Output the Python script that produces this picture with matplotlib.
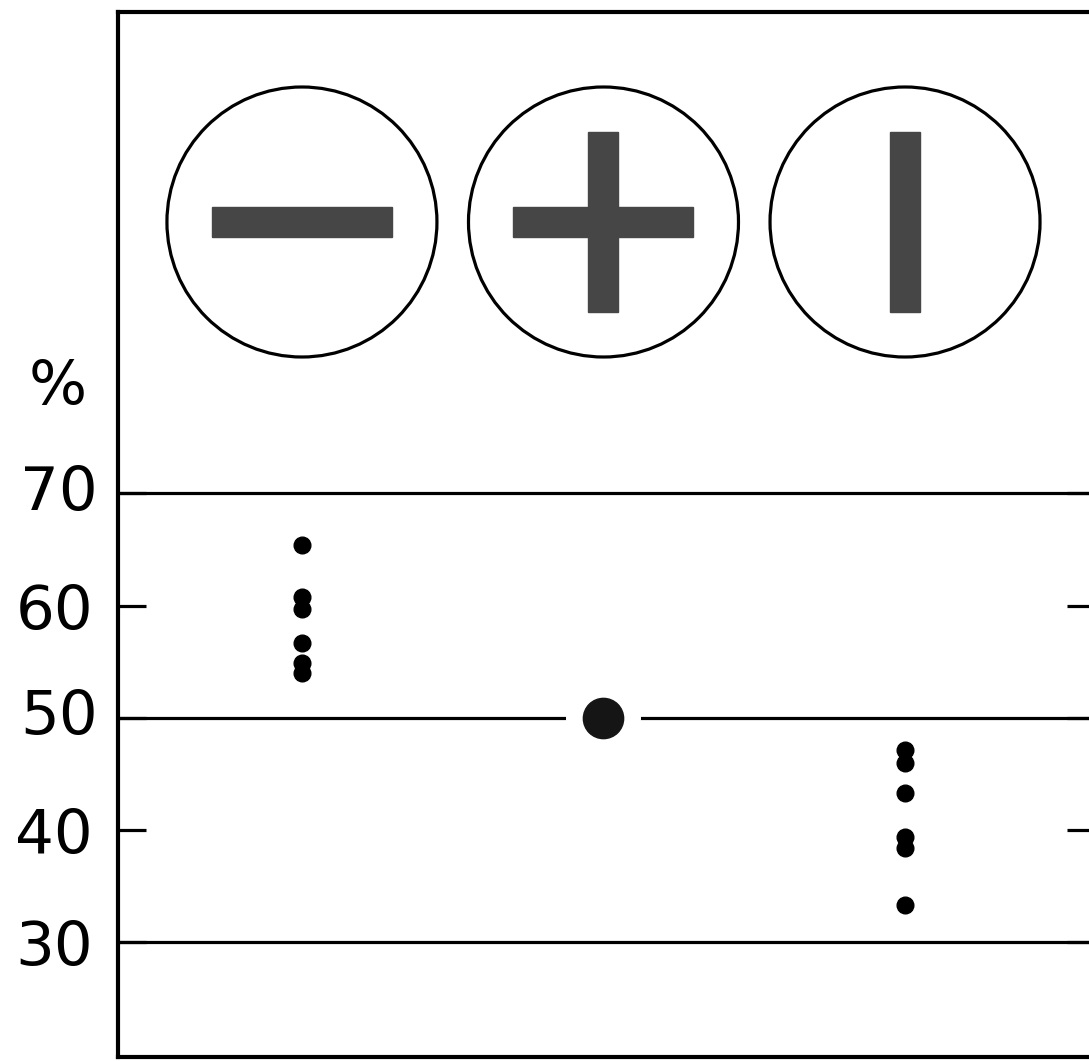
import numpy as np
import matplotlib.pyplot as plt
from matplotlib.patches import Circle, Rectangle

# orientation of the grating in each condition
CONDITIONS = ['horizontal', 'plus', 'vertical']
X_POS = [1, 2, 3]

# percent values
HORIZONTAL_VALUES = [65.4, 60.8, 59.7, 56.7, 54.9, 54.0]
PLUS_VALUES = [50.0]
VERTICAL_VALUES = [47.1, 46.0, 43.3, 39.4, 38.4, 33.3]

REF_LINES = [70, 50, 30]
Y_TICKS = [30, 40, 50, 60, 70]

FIG_W, FIG_H = 1089, 1061
BAR_COLOR = '#464646'
FONT = ['DejaVu Sans']


def main():
    fig = plt.figure(figsize=(FIG_W / 100, FIG_H / 100), dpi=100)
    ax = fig.add_axes([118 / FIG_W, 4 / FIG_H, 977 / FIG_W, 1045 / FIG_H])
    ax.set_xlim(0.39, 3.63)
    ax.set_ylim(19.8, 112.85)

    for y in REF_LINES:
        ax.axhline(y, color='black', lw=2.3, zorder=1)

    series = [HORIZONTAL_VALUES, PLUS_VALUES, VERTICAL_VALUES]
    for x, vals in zip(X_POS, series):
        if len(vals) == 1:
            # single point sits on the 50 % line with a gap around it
            ax.plot(x, vals[0], 'o', ms=53, color='white', zorder=2)
            ax.plot(x, vals[0], 'o', ms=29, color='#151515', zorder=3)
        else:
            ax.plot([x] * len(vals), vals, 'o', ms=12, color='black',
                    ls='none', zorder=3)

    for side in ax.spines.values():
        side.set_linewidth(3.0)
    ax.set_xticks([])
    ax.set_yticks(Y_TICKS)
    ax.set_yticklabels(['30', '40', '', '60', ''])
    ax.tick_params(axis='y', direction='in', length=20, width=2.3,
                   right=True, labelsize=44, pad=18)
    for lbl in ax.get_yticklabels():
        lbl.set_fontfamily(FONT)
        lbl.set_fontweight('normal')
    # labels for the full-width lines (no tick mark there)
    for y in [50, 70]:
        ax.text(-0.021, y, str(y), transform=ax.get_yaxis_transform(),
                ha='right', va='center', fontsize=44, family=FONT)
    ax.text(-0.062, 79.4, '%', transform=ax.get_yaxis_transform(),
            ha='center', va='center', fontsize=44, family=FONT)

    draw_icons(fig, ax)
    fig.savefig('out.png', dpi=100)


def draw_icons(fig, ax):
    # overlay in pixel units so the circles stay round
    icon_ax = fig.add_axes([0, 0, 1, 1])
    icon_ax.set_xlim(0, FIG_W)
    icon_ax.set_ylim(FIG_H, 0)
    icon_ax.axis('off')
    fig.canvas.draw()
    cy, r = 222, 135
    long_side, short_side = 180, 30
    for x, cond in zip(X_POS, CONDITIONS):
        cx = ax.transData.transform((x, 0))[0]
        icon_ax.add_patch(Circle((cx, cy), r, fill=False, lw=2.3,
                                 ec='black'))
        if cond in ('horizontal', 'plus'):
            icon_ax.add_patch(Rectangle((cx - long_side / 2, cy - short_side / 2),
                                        long_side, short_side,
                                        color=BAR_COLOR))
        if cond in ('vertical', 'plus'):
            icon_ax.add_patch(Rectangle((cx - short_side / 2, cy - long_side / 2),
                                        short_side, long_side,
                                        color=BAR_COLOR))


if __name__ == "__main__":
    main()
